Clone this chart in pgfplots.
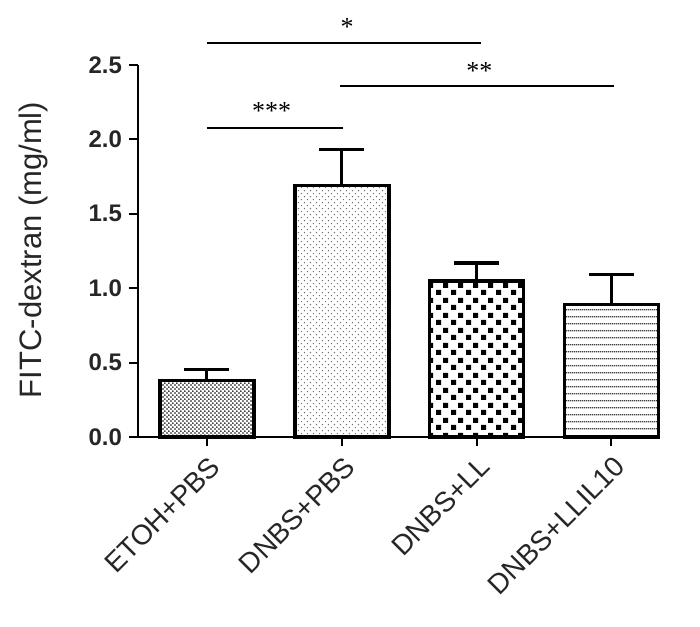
\documentclass[border=0pt]{standalone}
\usepackage{pgfplots}
\pgfplotsset{compat=1.18}
\usepackage{fontspec}
\setmainfont{Liberation Sans}
\newfontfamily\serifast{Liberation Serif}
\usetikzlibrary{patterns}
\pgfdeclarepatternformonly{densedots}{\pgfpointorigin}{\pgfqpoint{2.2pt}{2.2pt}}{\pgfqpoint{2.2pt}{2.2pt}}{%
  \pgfpathcircle{\pgfqpoint{0.55pt}{0.55pt}}{0.5pt}%
  \pgfpathcircle{\pgfqpoint{1.65pt}{1.65pt}}{0.5pt}%
  \pgfusepath{fill}}
\pgfdeclarepatternformonly{sparsedots}{\pgfpointorigin}{\pgfqpoint{3.2pt}{3.2pt}}{\pgfqpoint{3.2pt}{3.2pt}}{%
  \pgfpathcircle{\pgfqpoint{0.8pt}{0.8pt}}{0.4pt}%
  \pgfpathcircle{\pgfqpoint{2.4pt}{2.4pt}}{0.4pt}%
  \pgfusepath{fill}}
\pgfdeclarepatternformonly{mycheck}{\pgfpointorigin}{\pgfqpoint{7.5pt}{7.5pt}}{\pgfqpoint{7.5pt}{7.5pt}}{%
  \pgfpathrectangle{\pgfqpoint{0.6pt}{0.6pt}}{\pgfqpoint{2.6pt}{2.6pt}}%
  \pgfpathrectangle{\pgfqpoint{4.35pt}{4.35pt}}{\pgfqpoint{2.6pt}{2.6pt}}%
  \pgfusepath{fill}}
\pgfdeclarepatternformonly{myhlines}{\pgfpointorigin}{\pgfqpoint{1pt}{3.6pt}}{\pgfqpoint{1pt}{3.6pt}}{%
  \pgfsetlinewidth{0.7pt}%
  \pgfpathmoveto{\pgfqpoint{0pt}{1.8pt}}%
  \pgfpathlineto{\pgfqpoint{1.05pt}{1.8pt}}%
  \pgfusepath{stroke}}
\begin{document}
\begin{tikzpicture}
\useasboundingbox (-69pt,-94.5pt) rectangle (281pt,218.5pt);
\begin{axis}[
  at={(0,0)}, anchor=south west,
  scale only axis, width=261pt, height=186pt,
  xmin=-0.51, xmax=3.36, ymin=0, ymax=2.5,
  axis lines*=left,
  axis line style={line width=1pt, -},
  xtick={0,1,2,3},
  xticklabels={ETOH+PBS,DNBS+PBS,DNBS+LL,DNBS+LLIL10},
  ytick={0,0.5,1,1.5,2,2.5},
  /pgf/number format/assume math mode=true,
  yticklabel style={/pgf/number format/fixed, /pgf/number format/fixed zerofill, /pgf/number format/precision=1, font=\bfseries\fontsize{12}{14}\selectfont, text=black!85},
  x tick label style={rotate=45, anchor=north east, font=\fontsize{14}{16}\selectfont, text=black!85, inner sep=1pt, xshift=-1.5pt, yshift=-2.5pt},
  tick align=outside, major tick length=4.5pt,
  tick style={line width=1pt, black},
  ylabel={FITC-dextran (mg/ml)},
  ylabel style={at={(axis description cs:-0.201,0.503)}, anchor=center, font=\fontsize{15.5}{18}\selectfont, text=black!85},
  clip=false,
  ybar, bar width=47pt, bar shift=0pt,
  mybar/.style={draw=black, line width=1.9pt,
    error bars/y dir=plus, error bars/y explicit,
    error bars/error bar style={line width=1.6pt, black},
    error bars/error mark options={rotate=90, mark size=11.25pt, line width=1.6pt, black}},
]
\addplot[mybar, pattern=densedots, pattern color=black] coordinates {(0,0.38) +- (0,0.075)};
\addplot[mybar, pattern=sparsedots, pattern color=black!55] coordinates {(1,1.69) +- (0,0.24)};
\addplot[mybar, pattern=mycheck, pattern color=black] coordinates {(2,1.05) +- (0,0.12)};
\addplot[mybar, pattern=myhlines, pattern color=black!75] coordinates {(3,0.89) +- (0,0.20)};
\draw[line width=1.3pt] (axis cs:0,2.648) -- (axis cs:2.03,2.648);
\draw[line width=1.3pt] (axis cs:0.99,2.359) -- (axis cs:3.02,2.359);
\draw[line width=1.3pt] (axis cs:0,2.077) -- (axis cs:1.01,2.077);
\node[anchor=base, font=\serifast\fontsize{13}{14}\selectfont, inner sep=0pt] at (axis cs:1.04,2.70) {*};
\node[anchor=base, font=\serifast\fontsize{13}{14}\selectfont, inner sep=0pt] at (axis cs:2.02,2.402) {**};
\node[anchor=base, font=\serifast\fontsize{13}{14}\selectfont, inner sep=0pt] at (axis cs:0.48,2.135) {***};
\end{axis}
\end{tikzpicture}
\end{document}
